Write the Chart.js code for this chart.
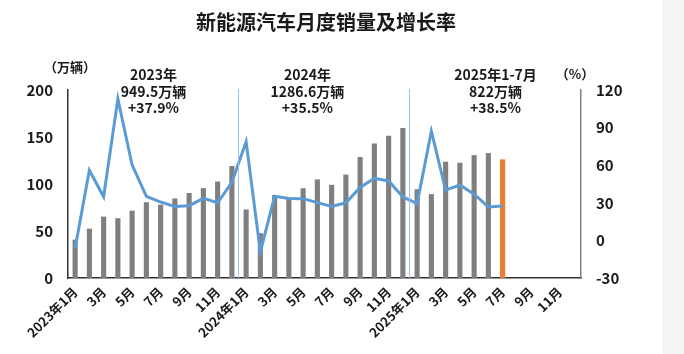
<!DOCTYPE html>
<html>
<head>
<meta charset="utf-8">
<script src="https://cdn.jsdelivr.net/npm/chart.js"></script>
<style>
    html, body { margin: 0; padding: 0; background: #ffffff; }
    #wrap { position: relative; width: 684px; height: 354px; }
</style>
</head>
<body>
<div id="wrap"><canvas id="c" width="684" height="354"></canvas></div>
<script>
// ============================================
// 新能源汽车月度销量及增长率
// ============================================

var months = [
    '2023年1月', '2月', '3月', '4月', '5月', '6月', '7月', '8月', '9月', '10月', '11月', '12月',
    '2024年1月', '2月', '3月', '4月', '5月', '6月', '7月', '8月', '9月', '10月', '11月', '12月',
    '2025年1月', '2月', '3月', '4月', '5月', '6月', '7月', '8月', '9月', '10月', '11月', '12月'
];

// 月度销量 (万辆)
var sales = [
    40.8, 52.5, 65.3, 63.6, 71.7, 80.6, 78.0, 84.6, 90.4, 95.6, 102.6, 119.1,
    72.9, 47.7, 88.3, 85.0, 95.5, 104.9, 99.1, 110.0, 128.7, 143.0, 151.2, 159.5,
    94.4, 89.2, 123.7, 122.6, 130.7, 132.9, 126.2, null, null, null, null, null
];

// 同比增长率 (%)
var growth = [
    -6.3, 55.9, 34.8, 112.8, 60.2, 35.2, 30.6, 27.0, 27.7, 33.5, 30.0, 46.4,
    78.8, -9.2, 35.3, 33.5, 33.3, 30.1, 27.0, 30.0, 42.3, 49.6, 47.4, 34.7,
    29.4, 87.1, 40.1, 44.2, 36.9, 26.7, 27.4, null, null, null, null, null
];

var leftTicks = [0, 50, 100, 150, 200];
var rightTicks = [-30, 0, 30, 60, 90, 120];

var yearNotes = [
    { at: 5.5, lines: ['2023年', '949.5万辆', '+37.9%'] },
    { at: 16.3, lines: ['2024年', '1286.6万辆', '+35.5%'] },
    { at: 29.5, lines: ['2025年1-7月', '822万辆', '+38.5%'] }
];
var yearSplits = [11.4, 23.45];

var FONT = '"Noto Sans CJK SC", "Noto Sans", sans-serif';
var barColors = sales.map(function (v, i) { return i === 30 ? '#ED7D31' : '#7F7F7F'; });

// --------------------------------------------------
//  Overlay: title, notes, unit labels, year splits
// --------------------------------------------------
var overlay = {
    id: 'overlay',
    beforeDraw: function (chart) {
        var c = chart.ctx;
        c.save();
        c.fillStyle = '#F5F5F5';
        c.fillRect(662, 0, 22, 354);
        c.restore();
    },
    afterDatasetsDraw: function (chart) {
        var c = chart.ctx;
        var x = chart.scales.x;
        var area = chart.chartArea;
        c.save();
        c.strokeStyle = '#9DC3E6';
        c.lineWidth = 1;
        yearSplits.forEach(function (v) {
            var px = Math.round(x.getPixelForValue(v)) + 0.5;
            c.beginPath();
            c.moveTo(px, area.top - 1);
            c.lineTo(px, area.bottom);
            c.stroke();
        });
        c.restore();
    },
    afterDraw: function (chart) {
        var c = chart.ctx;
        var x = chart.scales.x;
        c.save();
        c.fillStyle = '#1A1A1A';
        c.textAlign = 'center';
        c.textBaseline = 'middle';

        c.font = 'bold 20px ' + FONT;
        c.fillText('新能源汽车月度销量及增长率', 326, 22);

        c.font = 'bold 14px ' + FONT;
        yearNotes.forEach(function (n) {
            var cx = x.getPixelForValue(n.at);
            n.lines.forEach(function (t, k) {
                c.fillText(t, cx, 75 + k * 16.5);
            });
        });

        c.font = 'bold 13px ' + FONT;
        c.fillText('（万辆）', 70, 67);
        c.fillText('（%）', 575, 74);
        c.restore();
    }
};

var ctx = document.getElementById('c').getContext('2d');
var chart = new Chart(ctx, {
    type: 'bar',
    data: {
        labels: months,
        datasets: [
            {
                type: 'line',
                label: '增长率',
                data: growth,
                yAxisID: 'y1',
                borderColor: '#5B9BD5',
                borderWidth: 3,
                pointRadius: 0,
                tension: 0,
                spanGaps: false,
                order: 0
            },
            {
                type: 'bar',
                label: '销量',
                data: sales,
                yAxisID: 'y',
                backgroundColor: barColors,
                barPercentage: 0.36,
                categoryPercentage: 1.0,
                order: 1
            }
        ]
    },
    options: {
        responsive: false,
        animation: false,
        layout: { padding: { top: 90, left: 0, right: 0, bottom: 0 } },
        plugins: {
            legend: { display: false },
            tooltip: { enabled: false }
        },
        scales: {
            x: {
                grid: { display: false, drawTicks: false },
                border: { color: '#333333', width: 1.5 },
                afterFit: function (s) { s.height = 76; },
                ticks: {
                    autoSkip: false,
                    minRotation: 45,
                    maxRotation: 45,
                    padding: 6,
                    color: '#1A1A1A',
                    font: { size: 13, family: FONT, weight: 'bold' },
                    callback: function (val, i) {
                        return i % 2 === 0 ? months[i] : '';
                    }
                }
            },
            y: {
                position: 'left',
                min: 0,
                max: 200,
                afterFit: function (s) { s.width = 68; },
                afterBuildTicks: function (s) {
                    s.ticks = leftTicks.map(function (v) { return { value: v }; });
                },
                grid: { display: false, drawTicks: false },
                border: { color: '#333333', width: 1.5 },
                ticks: {
                    padding: 15,
                    color: '#1A1A1A',
                    font: { size: 15, family: FONT, weight: 'bold' }
                }
            },
            y1: {
                position: 'right',
                min: -30,
                max: 120,
                afterFit: function (s) { s.width = 103; },
                afterBuildTicks: function (s) {
                    s.ticks = rightTicks.map(function (v) { return { value: v }; });
                },
                grid: { display: false, drawTicks: false },
                border: { color: '#808080', width: 1.5 },
                ticks: {
                    padding: 15,
                    color: '#1A1A1A',
                    font: { size: 15, family: FONT, weight: 'bold' }
                }
            }
        }
    },
    plugins: [overlay]
});
</script>
</body>
</html>
